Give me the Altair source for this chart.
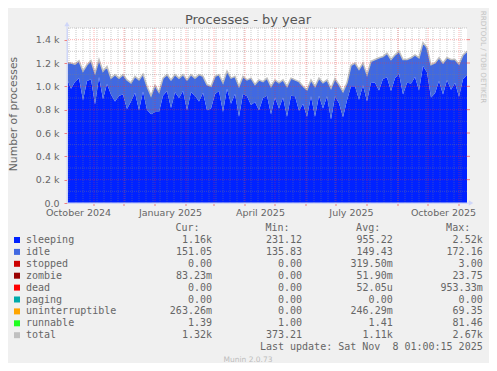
import altair as alt
import pandas as pd

# ---------------- data ----------------
start_date = "2024-10-05"
step_days = 4
total = [1205, 1200, 1190, 1220, 1130, 1185, 1220, 1115, 1230, 1130,
         1170, 1070, 1100, 1070, 1100, 1055, 1030, 1085, 1055, 1105,
         1000, 920, 1010, 950, 1070, 1100, 1055, 1100, 1070, 1100,
         1055, 1100, 1070, 1100, 1085, 1015, 1000, 1085, 1100, 1030,
         1130, 1070, 1085, 1000, 1085, 1055, 1070, 1015, 1055, 1040,
         1070, 1000, 1055, 1030, 1055, 1000, 1070, 1055, 1040, 1000,
         970, 1055, 1000, 1070, 1030, 1055, 985, 1065, 1015, 955,
         1030, 1180, 1200, 1145, 1200, 1100, 1215, 1230, 1245, 1255,
         1285, 1230, 1270, 1300, 1230, 1230, 1245, 1270, 1245, 1375,
         1330, 1185, 1200, 1245, 1200, 1245, 1230, 1230, 1190, 1270,
         1300]
idle = [140, 220, 150, 150, 250, 140, 160, 270, 150, 240,
        150, 140, 230, 150, 170, 250, 160, 140, 260, 150,
        200, 160, 230, 170, 150,
        140, 240, 150, 170, 140, 260, 150, 150, 230, 140,
        220, 190, 150, 140, 250, 150, 220, 150, 260, 150,
        140, 230, 150, 260, 140, 150, 240, 150, 220, 150,
        260, 150, 140, 250, 150, 230, 140, 260, 150, 220,
        140, 270, 150, 160, 220, 150,
        180, 200, 260, 190, 230, 180, 200, 280, 190, 210,
        270, 200, 190, 300, 200, 220, 190, 280, 200, 210,
        280, 260, 200, 270, 190, 260, 200, 280, 210, 200]

x_label_dates = ["2024-10-16", "2025-01-16", "2025-04-16", "2025-07-16", "2025-10-16"]
y_ticks = [0, 200, 400, 600, 800, 1000, 1200, 1400]
y_minor = [100, 300, 500, 700, 900, 1100, 1300, 1500]

title_text = "Processes - by year"
y_title = "Number of processes"
watermark = "RRDTOOL / TOBI OETIKER"

legend_names = ["sleeping", "idle", "stopped", "zombie", "dead", "paging",
                "uninterruptible", "runnable", "total"]
legend_colors = ["#0022ff", "#4169e1", "#cc0000", "#990000", "#ff0000",
                 "#00aaaa", "#ffa500", "#22ff22", "#c0c0c0"]
cur_vals = ["1.16k", "151.05", "0.00", "83.23m", "0.00", "0.00", "263.26m", "1.39", "1.32k"]
min_vals = ["231.12", "135.83", "0.00", "0.00", "0.00", "0.00", "0.00", "1.00", "373.21"]
avg_vals = ["955.22", "149.43", "319.50m", "51.90m", "52.05u", "0.00", "246.29m", "1.41", "1.11k"]
max_vals = ["2.52k", "172.16", "3.00", "23.75", "953.33m", "0.00", "69.35", "81.46", "2.67k"]
headers = ["Cur:", "Min:", "Avg:", "Max:"]
last_update = "Last update: Sat Nov\u00a0\u00a08 01:00:15 2025"
version_text = "Munin 2.0.73"

# ---------------- styling ----------------
SANS = "DejaVu Sans"
MONO = "DejaVu Sans Mono"
FONT = "#666666"
AXIS = "#CFD6F8"
NB = "\u00a0"

dates = pd.date_range(start_date, periods=len(total), freq=f"{step_days}D")
df = pd.DataFrame({"date": dates, "total": total, "idle": idle})
df["sleeping"] = df["total"] - df["idle"]

xsc = alt.Scale(domain=[alt.DateTime(year=2024, month=10, date=5),
                        alt.DateTime(year=2025, month=11, date=9)], nice=False)
ysc = alt.Scale(domain=[0, 1500], nice=False, zero=True)

def dt(s):
    y, m, d = (int(p) for p in s.split("-"))
    return alt.DateTime(year=y, month=m, date=d)

x_axis = alt.Axis(values=[dt(s) for s in x_label_dates],
                  labelExpr="timeFormat(datum.value, '%B %Y')",
                  ticks=False, tickSize=0, grid=False, domainColor=AXIS,
                  labelPadding=9, labelBaseline="middle", labelFont=SANS,
                  labelFontSize=9.5, labelColor=FONT, labelFlush=False,
                  labelOverlap=False, title=None, zindex=1)
y_axis = alt.Axis(values=y_ticks,
                  labelExpr="datum.value == 0 ? '0.0' : format(datum.value/1000, '.1f') + ' k'",
                  tickColor="#f08080", tickSize=3, grid=False, domainColor=AXIS,
                  labelPadding=5, labelFont=SANS, labelFontSize=9.5, labelColor=FONT,
                  labelOverlap=False, title=None, zindex=1)

sleep_area = alt.Chart(df).mark_area(color="#0022ff", interpolate="linear").encode(
    x=alt.X("date:T", scale=xsc, axis=x_axis),
    y=alt.Y("sleeping:Q", scale=ysc, axis=y_axis),
)
idle_area = alt.Chart(df).mark_area(color="#4169e1", interpolate="linear").encode(
    x=alt.X("date:T", scale=xsc, axis=None),
    y=alt.Y("total:Q", scale=ysc, axis=None),
    y2=alt.Y2("sleeping:Q"),
)
total_line = alt.Chart(df).mark_line(color="#c0c0c0", strokeWidth=1.5).encode(
    x=alt.X("date:T", scale=xsc, axis=None),
    y=alt.Y("total:Q", scale=ysc, axis=None),
)

mondays = pd.DataFrame({"d": pd.date_range("2024-10-07", "2025-11-08", freq="W-MON")})
months = pd.DataFrame({"d": pd.date_range("2024-11-01", "2025-11-01", freq="MS")})
ymin_df = pd.DataFrame({"v": y_minor})
ymaj_df = pd.DataFrame({"v": y_ticks[1:]})

minor_x = alt.Chart(mondays).mark_rule(color="#808080", opacity=0.4, strokeDash=[1, 1]).encode(
    x=alt.X("d:T", scale=xsc, axis=None))
minor_y = alt.Chart(ymin_df).mark_rule(color="#808080", opacity=0.4, strokeDash=[1, 1]).encode(
    y=alt.Y("v:Q", scale=ysc, axis=None))
major_x = alt.Chart(months).mark_rule(color="#ff3030", opacity=0.38, strokeDash=[1, 1]).encode(
    x=alt.X("d:T", scale=xsc, axis=None))
major_y = alt.Chart(ymaj_df).mark_rule(color="#ff3030", opacity=0.38, strokeDash=[1, 1]).encode(
    y=alt.Y("v:Q", scale=ysc, axis=None))
x_ticks = alt.Chart(months).mark_rule(color="#f08080").encode(
    x=alt.X("d:T", scale=xsc, axis=None), y=alt.value(175), y2=alt.value(178))
r_ticks = alt.Chart(ymaj_df).mark_rule(color="#f08080").encode(
    y=alt.Y("v:Q", scale=ysc, axis=None), x=alt.value(400), x2=alt.value(403))

one = pd.DataFrame({"k": [0]})
y_ext = alt.Chart(one).mark_rule(color=AXIS).encode(
    x=alt.value(0), y=alt.value(-3), y2=alt.value(175))
x_ext = alt.Chart(one).mark_rule(color=AXIS).encode(
    x=alt.value(0), x2=alt.value(403), y=alt.value(175))
arrow_up = alt.Chart(one).mark_point(shape="triangle-up", filled=True, size=28,
                                     color=AXIS, opacity=1).encode(
    x=alt.value(0), y=alt.value(-4))
arrow_right = alt.Chart(one).mark_point(shape="triangle-right", filled=True, size=28,
                                        color=AXIS, opacity=1).encode(
    x=alt.value(404), y=alt.value(175))

title = alt.Chart(one).mark_text(font=SANS, fontSize=13, color="#555555",
                                 align="center", baseline="alphabetic").encode(
    x=alt.value(181), y=alt.value(-4), text=alt.value(title_text))
ytitle = alt.Chart(one).mark_text(font=SANS, fontSize=10.8, color=FONT, angle=270,
                                  align="center", baseline="middle").encode(
    x=alt.value(-53), y=alt.value(86), text=alt.value(y_title))
wm = alt.Chart(one).mark_text(font=SANS, fontSize=7.2, color="#c4c4c4", angle=90,
                              align="center", baseline="middle").encode(
    x=alt.value(416), y=alt.value(29), text=alt.value(watermark))

def pad(s):
    return s if s[-1].isalpha() else s + NB

leg = pd.DataFrame({
    "row": list(range(len(legend_names))),
    "name": legend_names,
    "color": legend_colors,
    "cur": [pad(s) for s in cur_vals],
    "min": [pad(s) for s in min_vals],
    "avg": [pad(s) for s in avg_vals],
    "max": [pad(s) for s in max_vals],
})
lbase = alt.Chart(leg).transform_calculate(py="212 + 11.9 * datum.row")
ly = alt.Y("py:Q", scale=None, axis=None)
squares = lbase.mark_square(size=36, opacity=1).encode(
    x=alt.value(-50), y=ly, color=alt.Color("color:N", scale=None, legend=None))
names_t = lbase.mark_text(font=MONO, fontSize=10, color=FONT, align="left",
                          baseline="middle").encode(x=alt.value(-41), y=ly, text="name:N")
col_right = [145, 235, 325.7, 415.7]
col_fields = ["cur", "min", "avg", "max"]
col_layers = [
    lbase.mark_text(font=MONO, fontSize=10, color=FONT, align="right",
                    baseline="middle").encode(x=alt.value(xr), y=ly, text=f"{f}:N")
    for xr, f in zip(col_right, col_fields)
]
head_layers = [
    alt.Chart(one).mark_text(font=MONO, fontSize=10, color=FONT, align="right",
                             baseline="middle").encode(
        x=alt.value(xr - 12.5), y=alt.value(212 - 11.9), text=alt.value(h))
    for xr, h in zip(col_right, headers)
]
upd = alt.Chart(one).mark_text(font=MONO, fontSize=10, color=FONT, align="right",
                               baseline="middle").encode(
    x=alt.value(415.7), y=alt.value(212 + 11.9 * 9), text=alt.value(last_update))
ver = alt.Chart(one).mark_text(font=SANS, fontSize=7.5, color="#bdbdbd", align="center",
                               baseline="middle").encode(
    x=alt.value(181), y=alt.value(332), text=alt.value(version_text))

chart = alt.layer(
    sleep_area, idle_area, total_line,
    minor_x, minor_y, major_x, major_y, x_ticks, r_ticks,
    y_ext, x_ext, arrow_up, arrow_right,
    title, ytitle, wm,
    squares, names_t, *col_layers, *head_layers, upd, ver,
).resolve_scale(x="independent", y="independent").properties(
    width=400, height=175,
    background="#f0f0f0",
    padding={"left": 59, "top": 20, "right": 22, "bottom": 160},
    autosize=alt.AutoSizeParams(type="none"),
).configure_view(fill="#ffffff", strokeWidth=0)

chart.save("out.html", embed_options={"renderer": "svg", "actions": False})
